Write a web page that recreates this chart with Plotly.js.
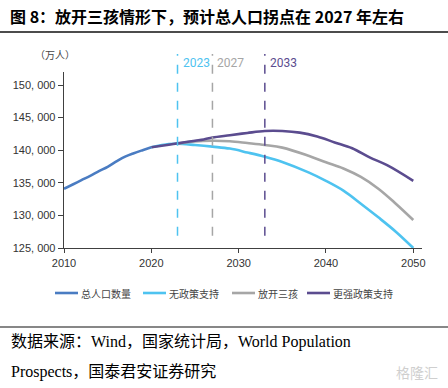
<!DOCTYPE html>
<html><head><meta charset="utf-8">
<script src="https://cdn.plot.ly/plotly-3.0.1.min.js"></script>
<style>html,body{margin:0;padding:0;background:#fff}#c{width:448px;height:388px}</style>
</head><body><div id="c"></div>
<script>
// Data (万人)
const histYears = [2010,2011,2012,2013,2014,2015,2016,2017,2018,2019,2020];
const histPop   = [134091,134735,135404,136072,136782,137462,138271,139008,139538,140005,140450];

const noPolicyYears = [2020,2022,2023,2025,2027,2029,2031,2033,2035,2038,2040,2042,2044,2046,2048,2050];
const noPolicyPop   = [140450,140950,141000,140800,140550,140250,139650,139000,138200,136600,135300,133800,131800,129700,127500,125000];

const threeChildYears = [2023,2025,2027,2029,2031,2033,2035,2038,2040,2042,2044,2046,2048,2050];
const threeChildPop   = [141000,141350,141450,141380,141100,140800,140400,139150,138150,137200,135900,134100,131800,129300];

const strongYears = [2020,2022,2023,2025,2026,2027,2029,2031,2033,2035,2037,2039,2041,2043,2045,2047,2050];
const strongPop   = [140450,140850,141050,141450,141650,141950,142300,142650,142950,142950,142700,142100,141200,140300,138900,137700,135300];

const markYears  = [2023, 2027, 2033];
const markLabels = ['2023', '2027', '2033'];
const markColors = ['#4EC3F0', '#A6A6A6', '#5B4C8F'];

const yTickVals = [125000,130000,135000,140000,145000,150000];
const yTickText = ['125, 000','130, 000','135, 000','140, 000','145, 000','150, 000'];
const xTickVals = [2010,2020,2030,2040,2050];
const xTickText = ['2010','2020','2030','2040','2050'];

const seriesNames = ['总人口数量','无政策支持','放开三孩','更强政策支持'];
const seriesColors = ['#4A7CC2','#4EC3F0','#A6A6A6','#5B4C8F'];

const lw = 2.6;
const traces = [
  {x: noPolicyYears, y: noPolicyPop, name: seriesNames[1], line:{color:seriesColors[1], width:lw, shape:'spline'}},
  {x: threeChildYears, y: threeChildPop, name: seriesNames[2], line:{color:seriesColors[2], width:lw, shape:'spline'}},
  {x: strongYears, y: strongPop, name: seriesNames[3], line:{color:seriesColors[3], width:lw, shape:'spline'}},
  {x: histYears, y: histPop, name: seriesNames[0], line:{color:seriesColors[0], width:lw, shape:'spline'}}
].map(t => Object.assign({type:'scatter', mode:'lines', hoverinfo:'skip', showlegend:false}, t));

const legendX = [55, 143, 232, 307];
const legY = (248-293)/176;
const shapes = [];
const annotations = [];
markYears.forEach((yr, i) => {
  shapes.push({type:'line', xref:'x', yref:'paper', x0: yr, x1: yr, y0: 0.07, y1: 1.102,
    line:{color: markColors[i], width:1.5, dash:'dash'}});
  annotations.push({xref:'x', yref:'paper', x: yr, y: (248-63)/176, xanchor:'left', yanchor:'middle', xshift:3,
    text: markLabels[i], showarrow:false, font:{family:'Roboto, Arial, sans-serif', size:12, color: markColors[i]}});
});
seriesNames.forEach((n, i) => {
  shapes.push({type:'line', xref:'paper', yref:'paper',
    x0: (legendX[i]-64)/358, x1: (legendX[i]+23-64)/358, y0: legY, y1: legY,
    line:{color: seriesColors[i], width:2.6}});
  annotations.push({xref:'paper', yref:'paper', x:(legendX[i]+24-64)/358, y:legY, xanchor:'left', yanchor:'middle',
    text: n, showarrow:false, font:{family:'Noto Sans CJK SC, sans-serif', size:10, color:'#444'}});
});

const layout = {
  width: 448, height: 388,
  margin: {l:64, r:26, t:72, b:140},
  paper_bgcolor:'#fff', plot_bgcolor:'#fff',
  showlegend: false,
  font: {family:'Liberation Sans, Arial, sans-serif', color:'#333'},
  xaxis: {range:[2010, 2051], tickvals:xTickVals, ticktext:xTickText, showgrid:false, zeroline:false,
    showline:true, linecolor:'#404040', linewidth:1.3, ticks:'outside', ticklen:4, tickcolor:'#404040',
    tickfont:{size:11, color:'#333'}},
  yaxis: {range:[125000, 152000], tickvals:yTickVals, ticktext:yTickText, showgrid:false, zeroline:false,
    showline:true, linecolor:'#404040', linewidth:1.3, ticks:'outside', ticklen:5, tickcolor:'#404040',
    tickfont:{size:11, color:'#333'}},
  shapes: shapes.concat([
    {type:'line', xref:'paper', yref:'paper', x0:-64/358, x1:(448-64)/358, y0:(248-32)/176, y1:(248-32)/176, line:{color:'#111', width:1.5}},
    {type:'line', xref:'paper', yref:'paper', x0:-64/358, x1:(448-64)/358, y0:(248-327)/176, y1:(248-327)/176, line:{color:'#111', width:1.2}}
  ]),
  annotations: annotations.concat([
    {xref:'paper', yref:'paper', x:(8-64)/358, y:(248-16)/176, xanchor:'left', yanchor:'middle', showarrow:false,
      text:'<b>图 8：放开三孩情形下，预计总人口拐点在 2027 年左右</b>',
      font:{family:'Noto Sans CJK SC, sans-serif', size:16, color:'#000'}},
    {xref:'paper', yref:'paper', x:(33-64)/358, y:(248-54)/176, xanchor:'left', yanchor:'middle', showarrow:false,
      text:'（万人）', font:{family:'Noto Sans CJK SC, sans-serif', size:10, color:'#444'}},
    {xref:'paper', yref:'paper', x:(9-64)/358, y:(248-342)/176, xanchor:'left', yanchor:'middle', showarrow:false,
      text:'数据来源：Wind，国家统计局，World Population', font:{family:'Liberation Serif, Noto Sans CJK SC, serif', size:16, color:'#000'}},
    {xref:'paper', yref:'paper', x:(9-64)/358, y:(248-372)/176, xanchor:'left', yanchor:'middle', showarrow:false,
      text:'Prospects，国泰君安证券研究', font:{family:'Liberation Serif, Noto Sans CJK SC, serif', size:16, color:'#000'}},
    {xref:'paper', yref:'paper', x:(440-64)/358, y:(248-372)/176, xanchor:'right', yanchor:'middle', showarrow:false,
      text:'格隆汇', font:{family:'Noto Sans CJK SC, sans-serif', size:14, color:'#cfcfcf'}}
  ])
};
Plotly.newPlot('c', traces, layout, {staticPlot:true, displayModeBar:false});
</script></body></html>
